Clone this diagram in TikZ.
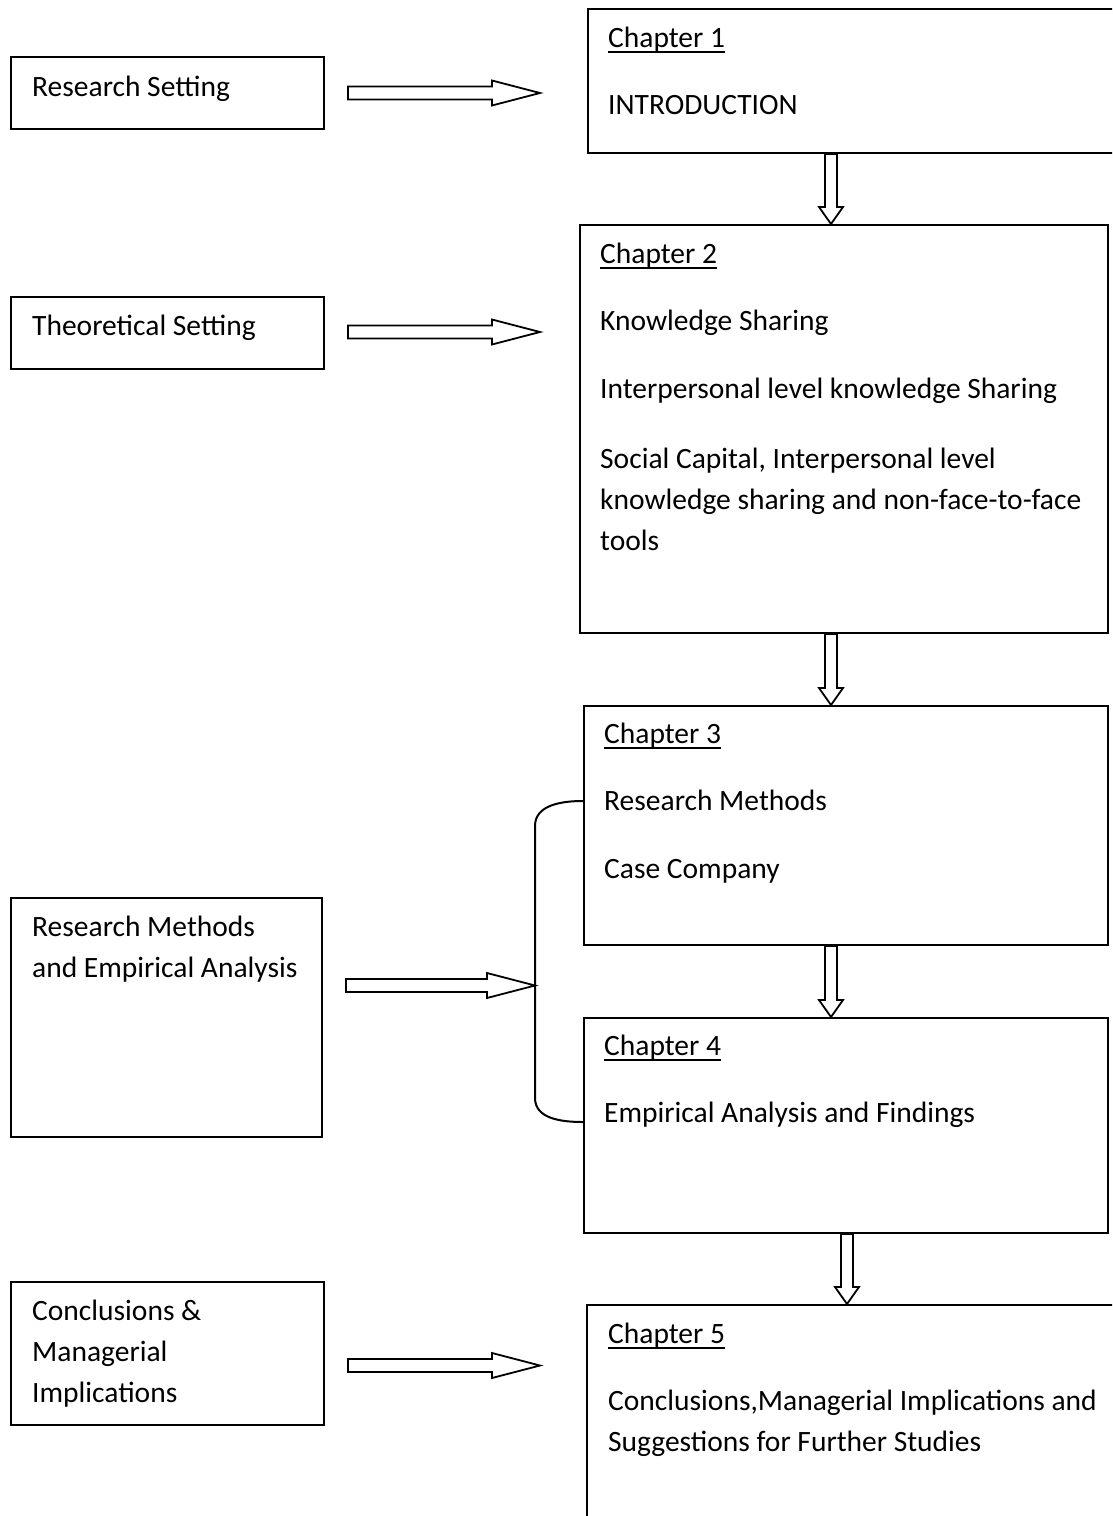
\documentclass[tikz,border=0pt]{standalone}
\usepackage{fontspec}
\setmainfont{Carlito}
\usetikzlibrary{calc}

% underlined chapter heading, rule set just under the baseline
\newcommand\chaphead[1]{\setbox0=\hbox{#1}\rlap{\rule[-5.5pt]{\wd0}{2pt}}\box0}

% horizontal block arrow from #1 to #2 (tip at #2)
\newcommand\hblock[2]{\draw[blockarrow] let \p1=(#1), \p2=(#2) in
  (\x1,\y1+6.5pt) -- (\x2-48pt,\y1+6.5pt) -- (\x2-48pt,\y1+12.5pt) -- (\x2,\y1)
  -- (\x2-48pt,\y1-12.5pt) -- (\x2-48pt,\y1-6.5pt) -- (\x1,\y1-6.5pt) -- cycle;}
% vertical block arrow from #1 down to #2 (tip at #2)
\newcommand\vblock[2]{\draw[blockarrow] let \p1=(#1), \p2=(#2) in
  (\x1-6pt,\y1) -- (\x1-6pt,\y2+17pt) -- (\x1-12pt,\y2+17pt) -- (\x1,\y2)
  -- (\x1+12pt,\y2+17pt) -- (\x1+6pt,\y2+17pt) -- (\x1+6pt,\y1) -- cycle;}

% multi-line texts are placed by the baseline of their last line
\tikzset{
  box/.style={draw=black, line width=2pt, rectangle, inner sep=0pt, anchor=north west},
  txt/.style={inner sep=0pt, anchor=base west, align=left,
    font=\fontsize{29.5}{41}\selectfont},
  blockarrow/.style={draw=black, line width=1.8pt, line join=miter, fill=white},
  bracket/.style={draw=black, line width=2pt}
}

\begin{document}
\begin{tikzpicture}[x=1pt,y=-1pt]
\useasboundingbox (0,0) rectangle (1112,1516);
\clip (0,0) rectangle (1112,1516);
\fill[white] (0,0) rectangle (1112,1516);

% left-hand boxes
\node[box, minimum width=313pt, minimum height=72pt]  (rs) at (10,56) {};
\node[box, minimum width=313pt, minimum height=72pt]  (ts) at (10,296) {};
\node[box, minimum width=311pt, minimum height=239pt] (rm) at (10,897) {};
\node[box, minimum width=313pt, minimum height=143pt] (cm) at (10,1281) {};

% chapter boxes
\node[box, minimum width=560pt, minimum height=144pt] (ch1) at (587,8) {};
\node[box, minimum width=528pt, minimum height=408pt] (ch2) at (579,224) {};
\node[box, minimum width=524pt, minimum height=239pt] (ch3) at (583,705) {};
\node[box, minimum width=524pt, minimum height=215pt] (ch4) at (583,1017) {};
\node[box, minimum width=560pt, minimum height=260pt] (ch5) at (586,1304) {};

% left-hand texts
\node[txt] (t-rs) at (32,96) {Research Setting};
\node[txt] (t-ts) at (32,335) {Theoretical Setting};
\node[txt] (t-rm) at (32,977) {Research Methods\\and Empirical Analysis};
\node[txt] (t-cm) at (32,1402) {Conclusions \&\\Managerial\\Implications};

% chapter texts
\node[txt] (h1) at (608,47) {\chaphead{Chapter 1}};
\node[txt] (b1) at (608,114) {INTRODUCTION};

\node[txt] (h2) at (600,263) {\chaphead{Chapter 2}};
\node[txt] (b2a) at (600,330) {Knowledge Sharing};
\node[txt] (b2b) at (600,398) {Interpersonal level knowledge Sharing};
\node[txt] (b2c) at (600,550) {Social Capital, Interpersonal level\\knowledge sharing and non-face-to-face\\tools};

\node[txt] (h3) at (604,743) {\chaphead{Chapter 3}};
\node[txt] (b3a) at (604,810) {Research Methods};
\node[txt] (b3b) at (604,878) {Case Company};

\node[txt] (h4) at (604,1055) {\chaphead{Chapter 4}};
\node[txt] (b4) at (604,1122) {Empirical Analysis and Findings};

\node[txt] (h5) at (608,1343) {\chaphead{Chapter 5}};
\node[txt] (b5) at (608,1451) {Conclusions,Managerial Implications and\\Suggestions for Further Studies};

% bracket joining chapters 3 and 4
\coordinate (br-top) at ($(ch3.north west)+(0,96)$);
\coordinate (br-bot) at ($(ch4.north west)+(0,105)$);
\coordinate (br-x) at (535,0);
\draw[bracket] (br-top) to[out=180,in=90] (br-x |- 0,826)
  -- (br-x |- 0,1098) to[out=-90,in=180] (br-bot);
\coordinate (br-tip) at (br-x |- 0,984);

% arrows from the settings to the chapters
\coordinate (a1s) at ($(rs.east)+(23,0)$);
\coordinate (a1e) at ($(a1s -| ch1.west)+(-47,0)$);
\hblock{a1s}{a1e}
\coordinate (a2s) at ($(ts.east)+(23,-1)$);
\coordinate (a2e) at ($(a2s -| ch2.west)+(-39,0)$);
\hblock{a2s}{a2e}
\coordinate (a3s) at ($(rm.east)+(23,-32)$);
\coordinate (a3e) at (a3s -| br-tip);
\hblock{a3s}{a3e}
\coordinate (a4s) at ($(cm.east)+(23,12)$);
\coordinate (a4e) at ($(a4s -| ch5.west)+(-46,0)$);
\hblock{a4s}{a4e}

% arrows between chapters
\coordinate (d1s) at ($(ch1.south west)+(244,0)$);
\coordinate (d1e) at (d1s |- ch2.north);
\vblock{d1s}{d1e}
\coordinate (d2s) at ($(ch2.south west)+(252,0)$);
\coordinate (d2e) at (d2s |- ch3.north);
\vblock{d2s}{d2e}
\coordinate (d3s) at ($(ch3.south west)+(248,0)$);
\coordinate (d3e) at (d3s |- ch4.north);
\vblock{d3s}{d3e}
\coordinate (d4s) at ($(ch4.south west)+(264,0)$);
\coordinate (d4e) at (d4s |- ch5.north);
\vblock{d4s}{d4e}
\end{tikzpicture}
\end{document}
